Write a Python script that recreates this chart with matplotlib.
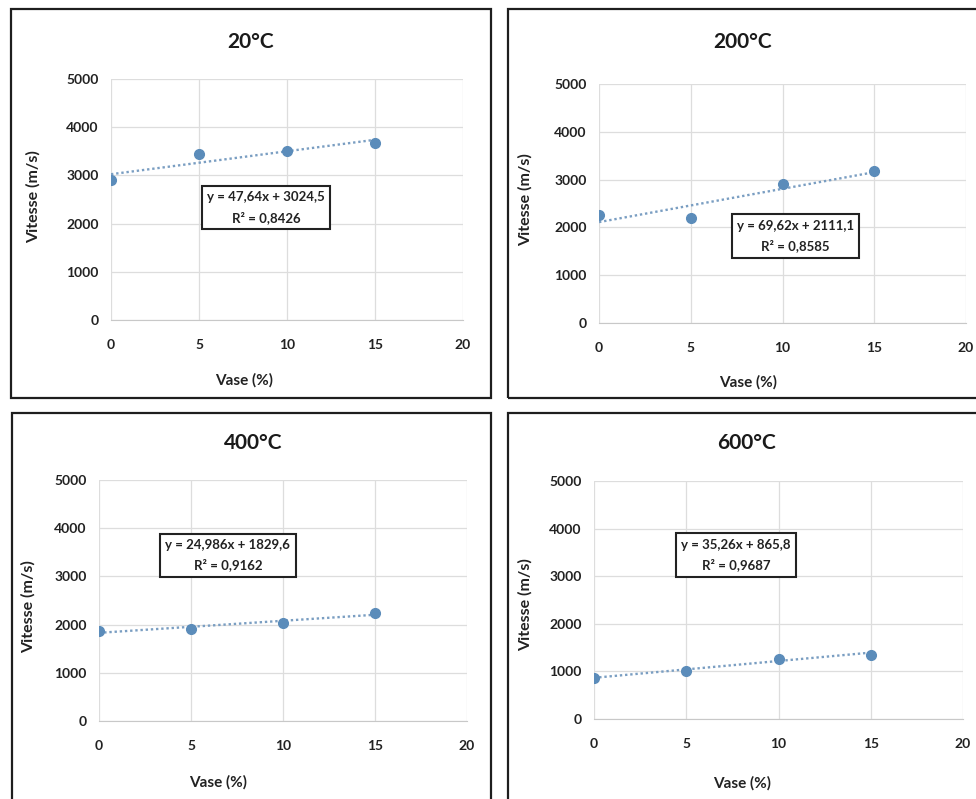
import matplotlib
matplotlib.use("Agg")
import matplotlib.pyplot as plt
from matplotlib.patches import Rectangle

plt.rcParams['font.family'] = ['Lato', 'DejaVu Sans']

# Data
vase = [0, 5, 10, 15]
titles = ['20°C', '200°C', '400°C', '600°C']
vitesse_20 = [2900, 3450, 3500, 3680]
vitesse_200 = [2250, 2200, 2900, 3180]
vitesse_400 = [1870, 1910, 2040, 2250]
vitesse_600 = [865, 1005, 1265, 1355]
series = [vitesse_20, vitesse_200, vitesse_400, vitesse_600]

# trend lines as printed on the chart
slopes = [47.64, 69.62, 24.986, 35.26]
intercepts = [3024.5, 2111.1, 1829.6, 865.8]
eq_labels = ['y = 47,64x + 3024,5\nR² = 0,8426',
             'y = 69,62x + 2111,1\nR² = 0,8585',
             'y = 24,986x + 1829,6\nR² = 0,9162',
             'y = 35,26x + 865,8\nR² = 0,9687']

x_ticks = [0, 5, 10, 15, 20]
y_ticks = [0, 1000, 2000, 3000, 4000, 5000]

W, H = 976, 799
fig = plt.figure(figsize=(W / 100, H / 100), dpi=100)

def px(x0, y0, x1, y1):
    # pixel box (top-left origin) -> figure fraction [l, b, w, h]
    return [x0 / W, 1 - y1 / H, (x1 - x0) / W, (y1 - y0) / H]

# plot areas, frames, title / label positions in pixels
axes_px = [(111, 79, 463, 320), (599, 84, 966, 323),
           (99, 480, 467, 721), (594, 481, 963, 719)]
frames_px = [(11, 9, 491, 398), (508, 9, 990, 398),
             (12, 413, 491, 812), (508, 413, 990, 812)]
title_px = [(251, 42), (743, 42), (253, 443), (747, 443)]
ylab_px = [(33, 197), (525, 200), (28, 607), (525, 605)]
xlab_px = [(244, 380), (748, 382), (218, 782), (742, 783)]
eq_pos = [(8.8, 2330), (10.7, 1820), (7.0, 3440), (7.7, 3445)]

marker_col = '#5B8CBA'
line_col = '#7A9EC2'

for i in range(4):
    fr = frames_px[i]
    fig.patches.append(Rectangle((fr[0] / W, 1 - fr[3] / H), (fr[2] - fr[0]) / W,
                                 (fr[3] - fr[1]) / H, transform=fig.transFigure,
                                 fill=False, edgecolor='#1e1e1e', linewidth=1.6))

    ax = fig.add_axes(px(*axes_px[i]))
    ax.set_xlim(0, 20)
    ax.set_ylim(0, 5000)
    ax.set_xticks(x_ticks)
    ax.set_yticks(y_ticks)
    ax.grid(True, color='#DDDDDD', linewidth=0.9)
    ax.set_axisbelow(True)
    for s in ['top', 'right', 'left']:
        ax.spines[s].set_visible(False)
    ax.spines['bottom'].set_color('#C8C8C8')
    ax.tick_params(length=0, labelsize=10, colors='#222222')
    ax.tick_params(axis='x', pad=14)
    ax.tick_params(axis='y', pad=9)
    for lab in ax.get_xticklabels() + ax.get_yticklabels():
        lab.set_fontweight('bold')

    fit = [slopes[i] * v + intercepts[i] for v in vase]
    ax.plot(vase, fit, linestyle=(0, (1, 1.2)), color=line_col, linewidth=1.7, zorder=2)
    ax.plot(vase, series[i], 'o', color=marker_col, markersize=7, zorder=3)

    ax.text(eq_pos[i][0], eq_pos[i][1], eq_labels[i], ha='center', va='center',
            fontsize=9.5, fontweight='bold', color='#222222', linespacing=1.7,
            bbox=dict(boxstyle='square,pad=0.4', facecolor='white',
                      edgecolor='#222222', linewidth=1.5), zorder=4)

    fig.text(title_px[i][0] / W, 1 - title_px[i][1] / H, titles[i],
             ha='center', va='center', fontsize=15, fontweight='bold', color='#1a1a1a')
    fig.text(ylab_px[i][0] / W, 1 - ylab_px[i][1] / H, 'Vitesse (m/s)', rotation=90,
             ha='center', va='center', fontsize=11.5, fontweight='bold', color='#222222')
    fig.text(xlab_px[i][0] / W, 1 - xlab_px[i][1] / H, 'Vase (%)',
             ha='center', va='center', fontsize=11, fontweight='bold', color='#222222')

fig.savefig('out.png', dpi=100, facecolor='white')
